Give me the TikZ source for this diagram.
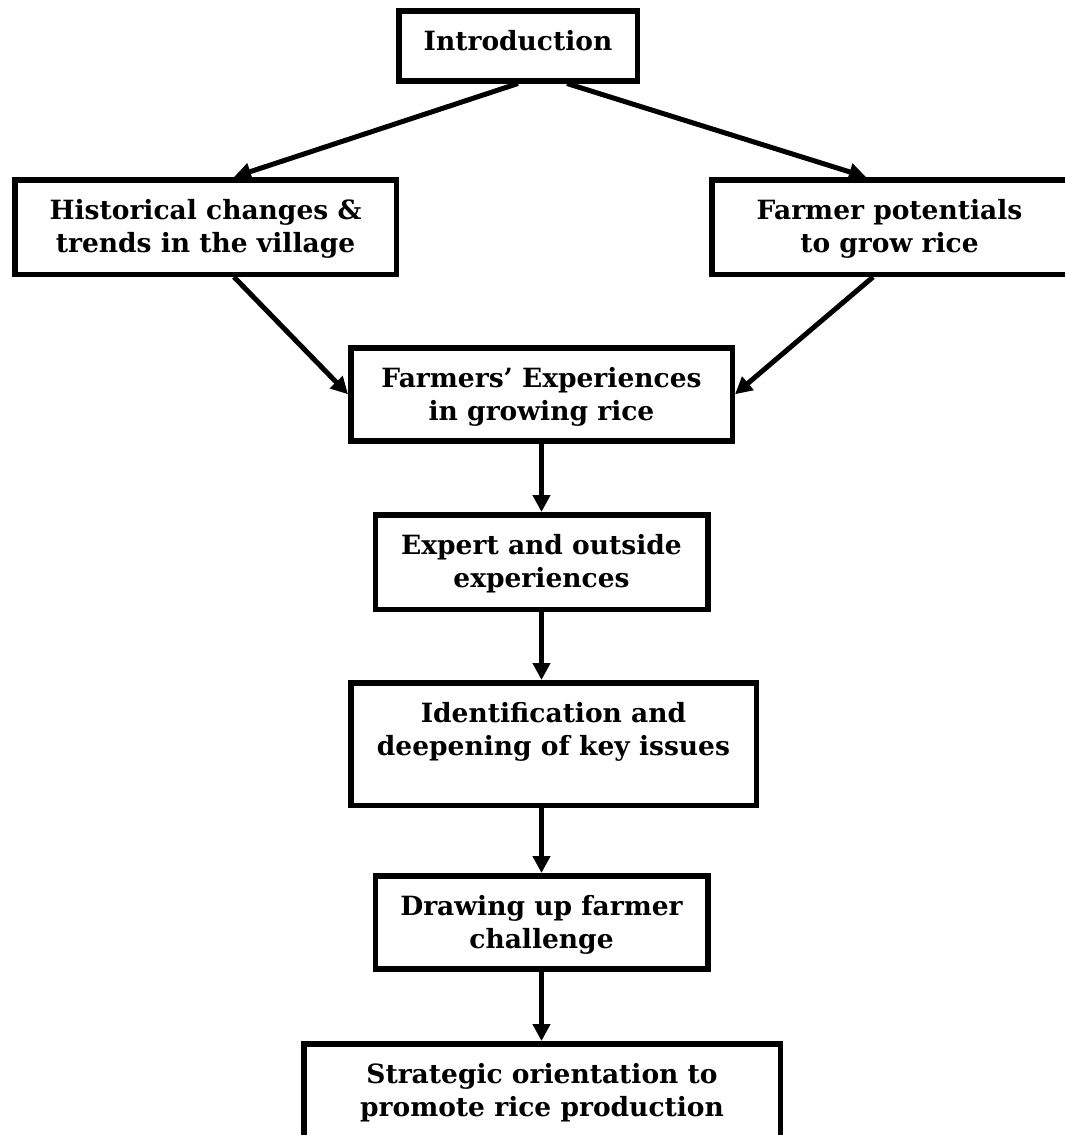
\documentclass[tikz,border=0pt]{standalone}
\usepackage{fontspec}
\setmainfont{DejaVu Serif}
\usetikzlibrary{arrows.meta}

\begin{document}
\begin{tikzpicture}[x=1pt,y=-1pt,
    box/.style={draw,line width=5.5pt,inner sep=0pt,align=center,anchor=north,
      font=\fontsize{26.5}{33}\selectfont\bfseries,text height=72.5pt,text depth=22pt},
    link/.style={line width=5pt,-{Triangle[length=17pt,width=17pt]}}]
    \useasboundingbox (0,0) rectangle (1065,1135);
    % Boxes
    \node[box,minimum width=238.5pt,text height=40pt,text depth=30pt] (intro) at (518,8) {Introduction};
    \node[box,minimum width=381.5pt] (hist) at (205.5,177) {Historical changes \&\\trends in the village};
    \node[box,minimum width=355.5pt] (pot) at (889.5,177) {Farmer potentials\\to grow rice};
    \node[box,minimum width=381.5pt,text depth=20.5pt] (exp) at (541.5,345) {Farmers’ Experiences\\in growing rice};
    \node[box,minimum width=332.5pt] (expert) at (541.5,512) {Expert and outside\\experiences};
    \node[box,minimum width=405.5pt,text depth=50pt] (ident) at (553.5,680) {Identification and\\deepening of key issues};
    \node[box,minimum width=332.5pt,text depth=20.5pt] (chall) at (541.5,873) {Drawing up farmer\\challenge};
    \node[box,minimum width=476.5pt,text depth=50pt] (strat) at (542,1041) {Strategic orientation to\\promote rice production};
    % Arrows
    \draw[link] (intro.south) -- ([xshift=28.5pt]hist.north);
    \draw[link] ([xshift=49pt]intro.south) -- ([xshift=-23.5pt]pot.north);
    \draw[link] ([xshift=28.5pt]hist.south) -- (exp.west);
    \draw[link] ([xshift=-16.5pt]pot.south) -- (exp.east);
    \draw[link] (exp.south) -- (expert.north);
    \draw[link] (expert.south) -- (expert.south |- ident.north);
    \draw[link] (chall.north |- ident.south) -- (chall.north);
    \draw[link] (chall.south) -- (chall.south |- strat.north);
\end{tikzpicture}
\end{document}
